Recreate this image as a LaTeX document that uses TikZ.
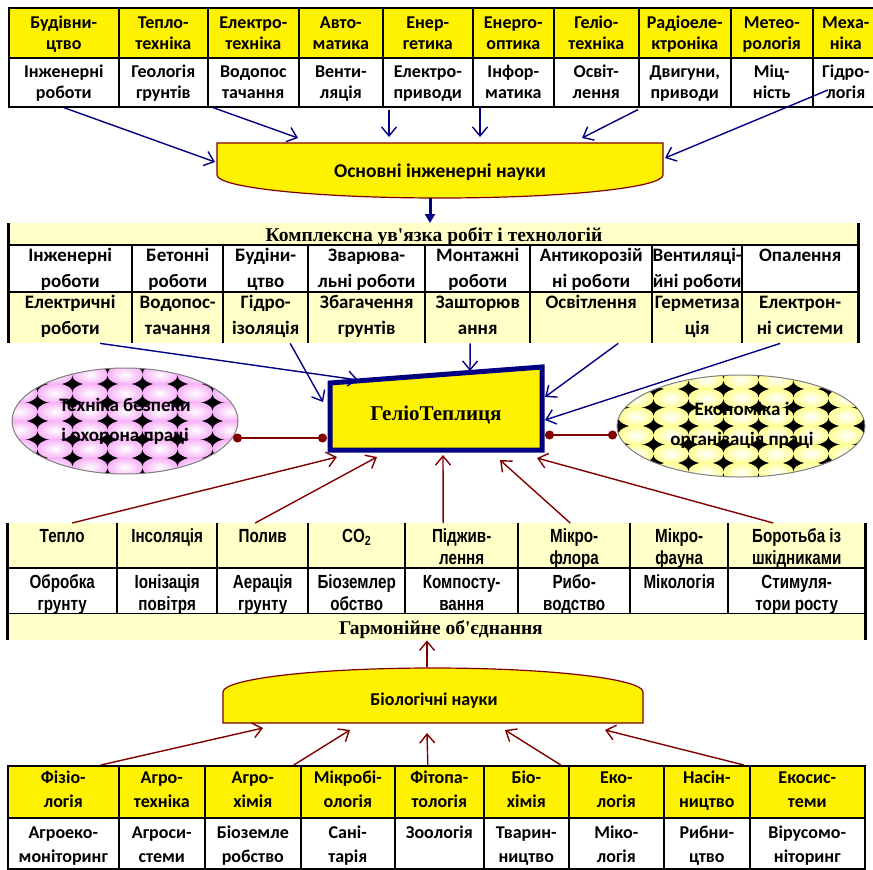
\documentclass[tikz,border=0pt]{standalone}
\usepackage{fontspec}
\setmainfont{Carlito}
\newfontfamily\serifface{Liberation Serif}
\newfontfamily\narrowface[FakeStretch=0.8]{Liberation Sans}
\usetikzlibrary{arrows.meta,calc}
\definecolor{navyb}{HTML}{000080}
\definecolor{darkred}{HTML}{800000}
\definecolor{ltyellow}{HTML}{FFFFC8}
\definecolor{bubblepink}{HTML}{F8B0F8}
\definecolor{bubbleyellow}{HTML}{FFFF90}
\tikzstyle{gridcell}=[draw=black, line width=1.6pt, inner sep=0pt, anchor=north west]
\tikzstyle{plaincell}=[inner sep=0pt, anchor=north west]
\tikzstyle{celltext}=[inner sep=0pt, anchor=north, align=center]
\tikzstyle{toptext}=[celltext, font=\bfseries\fontsize{18}{21}\selectfont]
\tikzstyle{midtext}=[celltext, font=\bfseries\fontsize{19}{26}\selectfont]
\tikzstyle{lowtext}=[celltext, font=\narrowface\bfseries\fontsize{19}{22}\selectfont]
\tikzstyle{bottext}=[celltext, font=\bfseries\fontsize{18}{24}\selectfont]
\tikzstyle{thinline}=[black, line width=1.2pt]
\tikzstyle{sideline}=[black, line width=3pt]
\tikzstyle{bluearrow}=[navyb, line width=1.4pt, -{Straight Barb[length=9pt,width=15pt]}]
\tikzstyle{redarrow}=[darkred, line width=1.4pt, -{Straight Barb[length=9pt,width=15pt]}]
\tikzstyle{dotlink}=[darkred, line width=1.4pt, {Circle[length=9pt]}-{Circle[length=9pt]}]
\newcommand{\firstline}{\rule{0pt}{14pt}}
% ellipse filled with shaded bubbles on black
\newcommand{\bubblefield}[5]{%
  \begin{scope}
    \clip (#1,#2) ellipse [x radius=#3, y radius=#4];
    \fill[black] (#1-#3,#2-#4) rectangle (#1+#3,#2+#4);
    \foreach \i in {-4,...,4} {
      \foreach \j in {-3,...,3} {
        \shade[inner color=white, outer color=#5] ({#1+35*\i},{#2+9.25+18.5*\j}) ellipse [x radius=17.8, y radius=9.9];
      }
    }
  \end{scope}
  \draw[gray, line width=1pt] (#1,#2) ellipse [x radius=#3, y radius=#4];
}

\begin{document}
\begin{tikzpicture}[x=1pt,y=-1pt]
\useasboundingbox (0,0) rectangle (873,870);

% engineering sciences table
\foreach \xa/\xb/\up/\down [count=\i] in {8/118/{Будівни-\\цтво}/{Інженерні\\роботи}, 118/207/{Тепло-\\техніка}/{Геологія\\грунтів}, 207/298/{Електро-\\техніка}/{Водопос\\тачання}, 298/382/{Авто-\\матика}/{Венти-\\ляція}, 382/472/{Енер-\\гетика}/{Електро-\\приводи}, 472/553/{Енерго-\\оптика}/{Інфор-\\матика}, 553/638/{Геліо-\\техніка}/{Освіт-\\лення}, 638/730/{Радіоеле-\\ктроніка}/{Двигуни,\\приводи}, 730/812/{Метео-\\рологія}/{Міц-\\ність}, 812/878/{Меха-\\ніка}/{Гідро-\\логія}} {
  \node[gridcell, fill=yellow, minimum width={(\xb-\xa)*1pt}, minimum height=50pt] (ea\i) at (\xa,7) {};
  \node[gridcell, fill=white, minimum width={(\xb-\xa)*1pt}, minimum height=49pt] (eb\i) at (\xa,57) {};
  \node[toptext] (et\i) at ([yshift=-7pt]ea\i.north) {\firstline\up};
  \node[toptext] (eu\i) at ([yshift=-6.5pt]eb\i.north) {\firstline\down};
}

% basic engineering sciences
\draw[darkred, line width=1.2pt, fill=yellow] (217,143) -- (663,143) -- (663,175) arc[start angle=0, end angle=180, x radius=223, y radius=23] -- cycle;
\node[font=\bfseries\fontsize{19.5}{22}\selectfont] (osn) at (440,172) {Основні інженерні науки};
\coordinate (osnA) at (215,162);
\coordinate (osnB) at (298,138);
\coordinate (osnC) at (389,137);
\coordinate (osnD) at (480,137);
\coordinate (osnE) at (582,138);
\coordinate (osnF) at (665,158);
\coordinate (osnS) at (430,198);
\coordinate (startF) at (828,90);
\draw[bluearrow] (eb1.south) -- (osnA);
\draw[bluearrow] ([xshift=6pt]eb3.south west) -- (osnB);
\draw[bluearrow] ([xshift=7pt,yshift=-2pt]eb5.south west) -- (osnC);
\draw[bluearrow] ([xshift=8pt]eb6.south west) -- (osnD);
\draw[bluearrow] ([yshift=-2pt]eb8.south west) -- (osnE);
\draw[bluearrow] (startF) -- (osnF);

% complex of works table
\node[plaincell, fill=ltyellow, minimum width=850pt, minimum height=22pt] (cplx) at (8,223) {};
\node[anchor=base, font=\serifface\bfseries\fontsize{19.5}{22}\selectfont] (cplxtext) at (434,241) {Комплексна ув'язка робіт і технологій};
\draw[navyb, line width=3pt, -{Triangle[length=9pt,width=10pt]}] (osnS) -- (cplx.north -| osnS);
\foreach \xa/\xb/\up/\down [count=\i] in {8/132/{Інженерні\\роботи}/{Електричні\\роботи}, 132/223/{Бетонні\\роботи}/{Водопос-\\тачання}, 223/308/{Будіни-\\цтво}/{Гідро-\\ізоляція}, 308/425/{Зварюва-\\льні роботи}/{Збагачення\\грунтів}, 425/530/{Монтажні\\роботи}/{Зашторюв\\ання}, 530/652/{Антикорозій\\ні роботи}/{Освітлення}, 652/742/{Вентиляці-\\йні роботи}/{Герметиза\\ція}, 742/858/{Опалення}/{Електрон-\\ні системи}} {
  \node[plaincell, fill=white, minimum width={(\xb-\xa)*1pt}, minimum height=47pt] (ca\i) at (\xa,245) {};
  \node[plaincell, fill=ltyellow, minimum width={(\xb-\xa)*1pt}, minimum height=51pt] (cb\i) at (\xa,292) {};
  \node[midtext] (ct\i) at ([yshift=-2pt]ca\i.north) {\firstline\up};
  \node[midtext] (cu\i) at ([yshift=-2pt]cb\i.north) {\firstline\down};
  \draw[thinline] (ca\i.north west) -- (cb\i.south west);
}
\draw[thinline] (ca1.north west) -- (ca8.north east);
\draw[thinline] (cb1.north west) -- (cb8.north east);
\draw[sideline] (cplx.north west) -- (cb1.south west);
\draw[sideline] (cplx.north east) -- (cb8.south east);

% greenhouse
\draw[navyb, line width=5pt, fill=yellow, line join=miter] (330,383) -- (542,367) -- (542,450) -- (330,450) -- cycle;
\node[font=\serifface\bfseries\fontsize{21}{24}\selectfont] (gelio) at (436,415) {ГеліоТеплиця};
\coordinate (gelA) at (358,380);
\coordinate (gelB) at (323,402);
\coordinate (gelC) at (470,371);
\coordinate (gelD) at (545,397);
\coordinate (gelE) at (545,420);
\draw[bluearrow] ([xshift=30pt]cb1.south) -- (gelA);
\draw[bluearrow] ([xshift=24.5pt]cb3.south) -- (gelB);
\draw[bluearrow] ([xshift=-7.5pt]cb5.south) -- (gelC);
\draw[bluearrow] ([xshift=27pt]cb6.south) -- (gelD);
\draw[bluearrow] ([xshift=-20pt]cb8.south) -- (gelE);

% side ellipses
\bubblefield{125}{421}{113}{53}{bubblepink}
\node[align=center, font=\bfseries\fontsize{19}{30}\selectfont] (safety) at (125,421) {Техніка безпеки\\і охорона праці};
\bubblefield{741}{426}{124}{51}{bubbleyellow}
\node[align=center, font=\bfseries\fontsize{19}{30}\selectfont] (econ) at (742,425) {Економіка і\\організація праці};
\coordinate (safetyE) at (233,438);
\coordinate (gelW) at (327,438);
\coordinate (gelR) at (545,435);
\coordinate (econW) at (617,435);
\draw[dotlink] (safetyE) -- (gelW);
\draw[dotlink] (gelR) -- (econW);

% conditions table
\foreach \xa/\xb/\up/\down [count=\i] in {7/117/{Тепло}/{Обробка\\грунту}, 117/217/{Інсоляція}/{Іонізація\\повітря}, 217/308/{Полив}/{Аерація\\грунту}, 308/405/{CO\textsubscript{2}}/{Біоземлер\\обство}, 405/518/{Піджив-\\лення}/{Компосту-\\вання}, 518/630/{Мікро-\\флора}/{Рибо-\\водство}, 630/728/{Мікро-\\фауна}/{Мікологія}, 728/865/{Боротьба із\\шкідниками}/{Стимуля-\\тори росту}} {
  \node[plaincell, fill=ltyellow, minimum width={(\xb-\xa)*1pt}, minimum height=45pt] (la\i) at (\xa,523) {};
  \node[plaincell, fill=white, minimum width={(\xb-\xa)*1pt}, minimum height=45pt] (lb\i) at (\xa,568) {};
  \node[lowtext] (lt\i) at ([yshift=-5pt]la\i.north) {\firstline\up};
  \node[lowtext] (lu\i) at ([yshift=-6pt]lb\i.north) {\firstline\down};
  \draw[thinline] (la\i.north west) -- (lb\i.south west);
}
\node[plaincell, fill=ltyellow, minimum width=858pt, minimum height=27pt] (harm) at (7,613) {};
\node[anchor=base, font=\serifface\bfseries\fontsize{19.5}{22}\selectfont] (harmtext) at (441,634) {Гармонійне об'єднання};
\draw[thinline] (lb1.north west) -- (lb8.north east);
\draw[thinline] (lb1.south west) -- (lb8.south east);
\draw[sideline] (la1.north west) -- (harm.south west);
\draw[sideline] (la8.north east) -- (harm.south east);
\coordinate (gelP) at (337,457);
\coordinate (gelQ) at (377,457);
\coordinate (gelT) at (443,455);
\coordinate (gelU) at (500,460);
\coordinate (gelV) at (537,458);
\draw[redarrow] ([xshift=10pt]la1.north) -- (gelP);
\draw[redarrow] ([xshift=-7.5pt]la3.north) -- (gelQ);
\draw[redarrow] ([xshift=-18.5pt]la5.north) -- (gelT);
\draw[redarrow] ([xshift=-4pt]la6.north) -- (gelU);
\draw[redarrow] ([xshift=-23.5pt]la8.north) -- (gelV);

% biological sciences
\draw[darkred, line width=1.2pt, fill=yellow] (223,723) -- (223,692) arc[start angle=180, end angle=360, x radius=210, y radius=24] -- (643,723) -- cycle;
\node[font=\bfseries\fontsize{18}{22}\selectfont] (bio) at (434,701) {Біологічні науки};
\coordinate (bioN) at (427,667);
\draw[redarrow] (bioN) -- (harm.south -| bioN);
\coordinate (bioA) at (263,728);
\coordinate (bioB) at (350,730);
\coordinate (bioC) at (427,733);
\coordinate (bioD) at (505,730);
\coordinate (bioE) at (605,730);

% biological sciences table
\foreach \xa/\xb/\up/\down [count=\i] in {7/118/{Фізіо-\\логія}/{Агроеко-\\моніторинг}, 118/204/{Агро-\\техніка}/{Агроси-\\стеми}, 204/300/{Агро-\\хімія}/{Біоземле\\робство}, 300/394/{Мікробі-\\ологія}/{Сані-\\тарія}, 394/483/{Фітопа-\\тологія}/{Зоологія}, 483/568/{Біо-\\хімія}/{Тварин-\\ництво}, 568/663/{Еко-\\логія}/{Міко-\\логія}, 663/749/{Насін-\\ництво}/{Рибни-\\цтво}, 749/864/{Екосис-\\теми}/{Вірусомо-\\ніторинг}} {
  \node[gridcell, fill=yellow, minimum width={(\xb-\xa)*1pt}, minimum height=52pt] (ba\i) at (\xa,765) {};
  \node[gridcell, fill=white, minimum width={(\xb-\xa)*1pt}, minimum height=51pt] (bb\i) at (\xa,817) {};
  \node[bottext] (bt\i) at ([yshift=-4pt]ba\i.north) {\firstline\up};
  \node[bottext] (bu\i) at ([yshift=-7pt]bb\i.north) {\firstline\down};
}
\draw[redarrow] ([xshift=37.5pt]ba1.north) -- (bioA);
\draw[redarrow] ([xshift=41pt]ba3.north) -- (bioB);
\draw[redarrow] ([xshift=-11.5pt]ba5.north) -- (bioC);
\draw[redarrow] ([xshift=34.5pt]ba6.north) -- (bioD);
\draw[redarrow] ([xshift=37pt]ba8.north) -- (bioE);
\end{tikzpicture}
\end{document}
